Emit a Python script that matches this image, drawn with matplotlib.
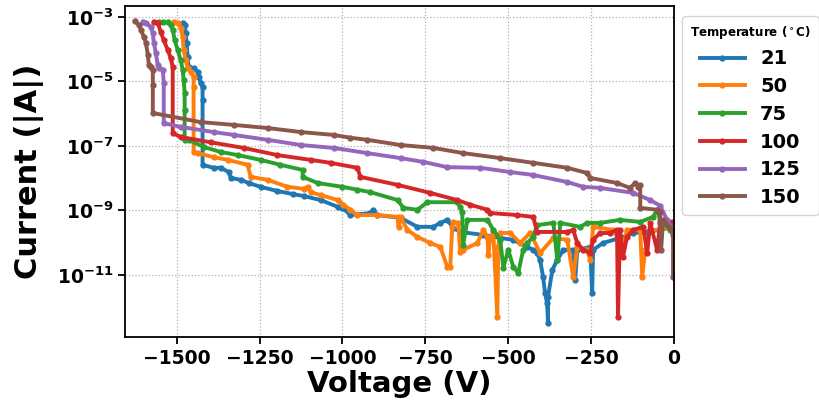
import matplotlib
matplotlib.use("Agg")
import matplotlib.pyplot as plt
from matplotlib.ticker import FixedLocator, NullLocator

plt.rcParams["font.family"] = ["DejaVu Sans"]
plt.rcParams["font.weight"] = "bold"
plt.rcParams["mathtext.fontset"] = "dejavusans"
plt.rcParams["mathtext.default"] = "bf"

temperaturas = ["21", "50", "75", "100", "125", "150"]

# barridos I-V, tensión en V y corriente absoluta en A
v_21 = [-1482, -1476, -1473, -1470, -1467, -1464, -1449, -1437, -1434, -1428, -1422, -1422,
        -1422, -1389, -1367, -1343, -1337, -1307, -1283, -1247, -1196, -1148, -1117, -1066,
        -1015, -1000, -976, -916, -907, -895, -825, -774, -726, -705, -684, -666, -645, -575,
        -524, -485, -443, -425, -413, -404, -395, -389, -383, -380, -380, -367, -352, -334,
        -304, -298, -292, -253, -247, -244, -214, -163, -123, -81, -42, -12]
i_21 = [6.5e-4, 5.6e-4, 3.2e-4, 1.6e-4, 5.7e-5, 2.8e-5, 2.6e-5, 2.0e-5, 1.4e-5, 8.9e-6, 6.7e-6, 2.7e-6,
        2.6e-8, 2.1e-8, 2.1e-8, 1.55e-8, 1.02e-8, 8.9e-9, 7.1e-9, 5.4e-9, 4.0e-9, 3.2e-9, 2.8e-9, 2.1e-9,
        1.3e-9, 1.2e-9, 7.2e-10, 8.3e-10, 1.05e-9, 7.2e-10, 5.9e-10, 3.1e-10, 3.1e-10, 4.1e-10, 5.1e-10, 2.9e-10, 2.15e-10, 1.74e-10,
        1.4e-10, 1.23e-10, 7.4e-11, 6.0e-11, 4.8e-11, 2.9e-11, 8.7e-12, 2.75e-12, 1.35e-12, 3.2e-13, 2.1e-12, 1.45e-11, 2.9e-11, 6.0e-11,
        6.0e-11, 6.9e-12, 6.0e-11, 7.4e-11, 2.75e-12, 6.0e-11, 9.8e-11, 1.4e-10, 2.0e-10, 2.15e-10, 2.5e-10, 2.9e-10]

v_50 = [-1509, -1497, -1488, -1482, -1479, -1473, -1467, -1458, -1449, -1449, -1449, -1437,
        -1389, -1346, -1286, -1277, -1226, -1166, -1117, -1105, -1096, -1066, -1015, -997,
        -976, -955, -895, -834, -831, -825, -804, -774, -735, -705, -684, -675, -669, -666,
        -651, -645, -636, -593, -575, -563, -560, -554, -545, -533, -530, -524, -494, -464,
        -434, -404, -364, -322, -304, -292, -262, -253, -244, -184, -154, -142, -102, -96,
        -87, -72, -42, -12]
i_50 = [7.0e-4, 6.5e-4, 4.6e-4, 2.4e-4, 9.5e-5, 4.6e-5, 2.6e-5, 2.0e-5, 1.4e-5, 6.7e-6, 6.5e-8, 6.0e-8,
        4.5e-8, 3.7e-8, 2.6e-8, 1.1e-8, 8.9e-9, 5.4e-9, 4.7e-9, 5.4e-9, 3.7e-9, 3.0e-9, 2.1e-9, 1.5e-9,
        1.05e-9, 7.2e-10, 7.2e-10, 6.3e-10, 3.1e-10, 6.3e-10, 2.5e-10, 1.5e-10, 9.8e-11, 7.4e-11, 1.8e-11, 1.8e-11, 3.1e-10, 4.4e-10,
        4.1e-10, 5.3e-11, 6.0e-11, 9.8e-11, 2.5e-10, 1.5e-10, 4.2e-11, 1.5e-10, 2.0e-10, 5.0e-13, 7.4e-11, 2.0e-10, 2.0e-10, 9.8e-11,
        2.0e-10, 4.8e-11, 1.4e-10, 1.23e-10, 8.7e-12, 7.4e-11, 6.0e-11, 2.9e-11, 3.1e-10, 2.5e-10, 7.4e-11, 2.5e-10, 2.5e-10, 8.7e-12,
        6.0e-11, 2.5e-10, 2.5e-10, 3.1e-10]

v_75 = [-1554, -1542, -1527, -1518, -1512, -1506, -1497, -1488, -1482, -1479, -1476, -1476,
        -1476, -1464, -1419, -1367, -1316, -1247, -1187, -1120, -1120, -1075, -1000, -955,
        -916, -834, -816, -774, -744, -654, -645, -639, -636, -623, -563, -545, -524, -515,
        -500, -485, -470, -455, -443, -425, -413, -364, -352, -343, -283, -262, -223, -163,
        -102, -63, -51, -42, -12]
i_75 = [7.0e-4, 7.0e-4, 7.0e-4, 5.6e-4, 4.0e-4, 1.9e-4, 9.5e-5, 4.6e-5, 2.3e-5, 1.1e-5, 4.4e-6, 1.3e-6,
        1.55e-7, 1.55e-7, 9.3e-8, 6.5e-8, 5.2e-8, 3.7e-8, 2.6e-8, 1.8e-8, 1.1e-8, 7.1e-9, 5.4e-9, 4.4e-9,
        3.7e-9, 2.1e-9, 1.2e-9, 1.05e-9, 1.8e-9, 1.8e-9, 1.3e-9, 8.9e-10, 8.6e-11, 5.1e-10, 5.1e-10, 2.5e-10, 1.23e-10, 1.65e-11,
        6.0e-11, 1.8e-11, 1.15e-11, 6.0e-11, 9.8e-11, 1.5e-10, 3.5e-10, 4.1e-10, 2.9e-11, 4.1e-10, 3.1e-10, 4.1e-10, 4.1e-10, 5.1e-10,
        4.4e-10, 6.3e-10, 1.05e-9, 5.1e-10, 2.5e-10]

v_100 = [-1569, -1557, -1548, -1539, -1527, -1518, -1512, -1512, -1488, -1398, -1298, -1196,
         -1096, -1036, -955, -946, -834, -735, -654, -614, -563, -554, -473, -425, -413, -322,
         -304, -292, -274, -253, -244, -223, -193, -172, -169, -163, -154, -142, -123, -93,
         -81, -72, -51, -42, -6]
i_100 = [7.0e-4, 6.5e-4, 3.4e-4, 1.9e-4, 9.5e-5, 5.3e-5, 2.8e-5, 2.5e-7, 1.9e-7, 1.3e-7, 8.7e-8, 5.2e-8,
         3.7e-8, 3.0e-8, 2.1e-8, 1.1e-8, 6.2e-9, 3.5e-9, 2.1e-9, 1.5e-9, 1.05e-9, 8.3e-10, 7.2e-10, 6.3e-10, 2.15e-10, 2.15e-10,
         2.5e-10, 9.8e-11, 6.0e-11, 4.8e-11, 1.23e-10, 2.0e-10, 2.0e-10, 2.5e-10, 5.0e-13, 2.5e-10, 3.6e-11, 1.5e-10, 2.5e-10, 3.1e-10,
         4.8e-11, 4.1e-10, 6.0e-11, 4.1e-10, 4.4e-10]

v_125 = [-1602, -1593, -1578, -1572, -1569, -1563, -1557, -1554, -1542, -1539, -1539, -1488,
         -1389, -1328, -1226, -1126, -1027, -925, -825, -756, -684, -584, -494, -425, -322,
         -274, -223, -123, -72, -42, -21, -3]
i_125 = [7.0e-4, 6.5e-4, 4.9e-4, 3.2e-4, 1.6e-4, 7.6e-5, 3.2e-5, 2.6e-5, 2.3e-5, 8.9e-6, 5.1e-7, 3.9e-7,
         2.7e-7, 2.2e-7, 1.55e-7, 1.07e-7, 8.7e-8, 6.0e-8, 4.2e-8, 3.2e-8, 2.2e-8, 2.1e-8, 1.55e-8, 1.26e-8, 7.6e-9,
         5.4e-9, 5.0e-9, 3.5e-9, 2.1e-9, 1.4e-9, 5.1e-10, 2.5e-10]

v_150 = [-1626, -1614, -1608, -1599, -1593, -1587, -1584, -1578, -1572, -1572, -1572, -1428,
         -1328, -1226, -1126, -1027, -976, -925, -825, -726, -636, -524, -425, -322, -262,
         -253, -172, -133, -117, -108, -102, -102, -51, -42, -39, -33, -12, -3, -3]
i_150 = [7.5e-4, 5.6e-4, 4.0e-4, 2.4e-4, 1.6e-4, 6.6e-5, 3.2e-5, 2.8e-5, 2.3e-5, 7.8e-6, 1.05e-6, 5.5e-7,
         4.5e-7, 3.6e-7, 2.7e-7, 2.2e-7, 1.8e-7, 1.55e-7, 1.07e-7, 8.7e-8, 6.0e-8, 4.2e-8, 3.0e-8, 2.1e-8, 1.45e-8,
         1.02e-8, 7.1e-9, 5.0e-9, 7.1e-9, 5.4e-9, 6.2e-9, 1.2e-9, 1.05e-9, 8.9e-10, 6.0e-11, 5.1e-10, 2.9e-10, 1.74e-10, 8.7e-12]

tensiones = [v_21, v_50, v_75, v_100, v_125, v_150]
corrientes = [i_21, i_50, i_75, i_100, i_125, i_150]

fig = plt.figure(figsize=(8.19, 4.01), dpi=100)
ax = fig.add_axes([0.153, 0.160, 0.670, 0.825])

for t, v, i in zip(temperaturas, tensiones, corrientes):
    ax.plot(v, i, marker=".", markersize=7, linewidth=2.8, label=t)

ax.set_yscale("log")
ax.set_xlim(-1655, 0)
ax.set_ylim(10 ** -12.92, 10 ** -2.66)
ax.yaxis.set_major_locator(FixedLocator([1e-11, 1e-9, 1e-7, 1e-5, 1e-3]))
ax.yaxis.set_minor_locator(NullLocator())
ax.set_xticks([-1500, -1250, -1000, -750, -500, -250, 0])

ax.grid(True, linestyle=":", color="#b0b0b0", linewidth=0.9)
ax.tick_params(labelsize=13.5, width=1.3, length=5)
for s in ax.spines.values():
    s.set_linewidth(1.3)

ax.set_xlabel("Voltage (V)", fontsize=21, fontweight="bold", labelpad=2)
ax.set_ylabel("Current (|A|)", fontsize=22, fontweight="bold", labelpad=9)

ax.legend(title="Temperature ($^\\circ$C)", loc="upper left",
          bbox_to_anchor=(1.015, 0.97), borderaxespad=0,
          prop={"size": 14, "weight": "bold"},
          title_fontproperties={"size": 8.6, "weight": "bold"},
          handlelength=2.3, labelspacing=0.45)

fig.savefig("out.png", dpi=100)
